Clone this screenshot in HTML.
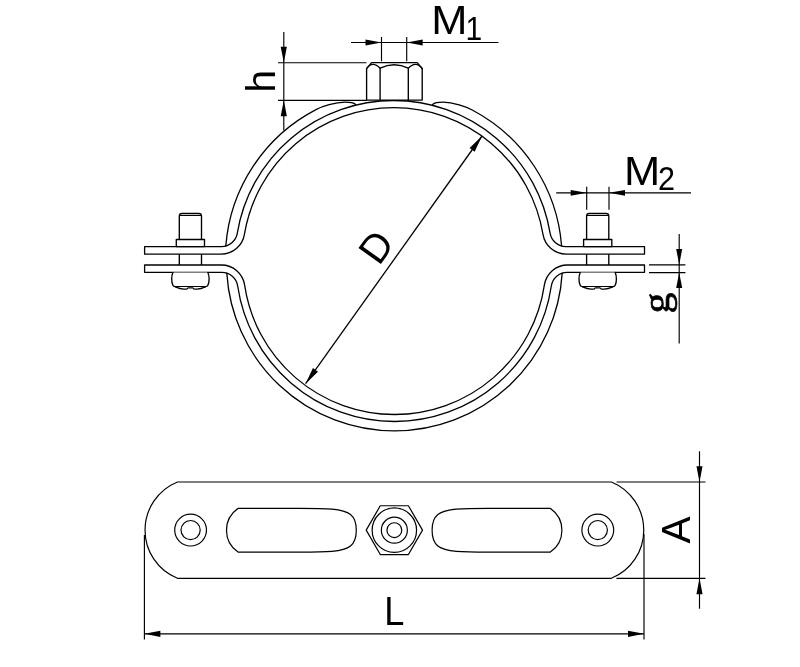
<!DOCTYPE html>
<html><head><meta charset="utf-8"><title>Pipe clamp drawing</title>
<style>
html,body{margin:0;padding:0;background:#fff;}
body{width:800px;height:667px;overflow:hidden;font-family:"Liberation Sans",sans-serif;}
svg{display:block;will-change:transform}
.o path,.o rect,.o circle,.o polygon{fill:#fff;stroke:#000;stroke-linejoin:round;stroke-linecap:round}
.o .nf{fill:none}
.d path{fill:none;stroke:#000;stroke-width:1.15}
.ar{fill:#000;stroke:none}
.t text{font-family:"Liberation Sans",sans-serif;fill:#000}
</style></head><body>
<svg width="800" height="667" viewBox="0 0 800 667">
<rect width="800" height="667" fill="#fff"/>
<g class="o" stroke-width="1.3">
<path stroke-width="1.35" d="M179.30,272 L179.30,216 Q179.30,213.3 182.00,213.3 L198.80,213.3 Q201.50,213.3 201.50,216 L201.50,272"/>
<path d="M180.10,215.3 L200.70,215.3" stroke-width="1.3"/>
<path stroke-width="1.35" d="M586.60,272 L586.60,216 Q586.60,213.3 589.30,213.3 L606.10,213.3 Q608.80,213.3 608.80,216 L608.80,272"/>
<path d="M587.40,215.3 L608.00,215.3" stroke-width="1.3"/>
<path d="M144.60,272.35 L221.85,272.35 A16,16 0 0 1 237.68,286.03 A158.5,158.5 0 0 0 551.32,286.03 A16,16 0 0 1 567.15,272.35 L644.50,272.35 L644.50,265.00 L567.50,265.00 A23.35,23.35 0 0 0 544.40,284.96 A151.5,151.5 0 0 1 244.60,284.96 A23.35,23.35 0 0 0 221.50,265.00 L144.60,265.00 Z"/>
<path d="M144.60,246.60 L221.53,246.60 A16,16 0 0 0 237.31,233.20 A158.5,158.5 0 0 1 550.09,233.20 A16,16 0 0 0 565.87,246.60 L644.50,246.60 L644.50,254.15 L566.23,254.15 A23.55,23.55 0 0 1 542.99,234.43 A151.3,151.3 0 0 0 244.41,234.43 A23.55,23.55 0 0 1 221.17,254.15 L144.60,254.15 Z"/>
<path class="nf" d="M225.80,246.01 A168.4,168.4 0 0 1 316.00,109.60 C322.21,106.37 335.00,102.3 345.00,102.2 C350.00,102.2 354.00,103 355.60,104.4"/>
<path class="nf" d="M561.60,246.01 A168.4,168.4 0 0 0 472.20,110.02 C466.01,106.75 453.20,102.3 443.20,102.2 C438.20,102.2 434.20,103 432.60,104.4"/>
<path class="nf" d="M226.81,273.14 A168,168 0 0 0 562.19,273.14"/>
<rect stroke-width="1.35" x="176.30" y="239.5" width="28.20" height="7.1"/>
<path stroke-width="1.35" d="M172.90,272.5 C171.30,276 171.30,282 172.90,285.3 Q173.40,286.6 175.30,286.6 L205.50,286.6 Q207.40,286.6 207.90,285.3 C209.50,282 209.50,276 207.90,272.5"/>
<path d="M175.30,286.9 C178.40,288.3 181.40,289.1 183.80,289.1 L186.80,289.1 L188.00,287.9 L192.80,287.9 L194.00,289.1 L197.00,289.1 C199.40,289.1 202.40,288.3 205.50,286.9" stroke-width="1.2"/>
<rect stroke-width="1.35" x="583.60" y="239.5" width="28.20" height="7.1"/>
<path stroke-width="1.35" d="M580.20,272.5 C578.60,276 578.60,282 580.20,285.3 Q580.70,286.6 582.60,286.6 L612.80,286.6 Q614.70,286.6 615.20,285.3 C616.80,282 616.80,276 615.20,272.5"/>
<path d="M582.60,286.9 C585.70,288.3 588.70,289.1 591.10,289.1 L594.10,289.1 L595.30,287.9 L600.10,287.9 L601.30,289.1 L604.30,289.1 C606.70,289.1 609.70,288.3 612.80,286.9" stroke-width="1.2"/>
</g><g class="o" stroke-width="1.35">
<path d="M366.6,100.1 L366.6,68.6 L371.6,62.6 L417.2,62.6 L422.2,68.6 L422.2,100.1 Z"/>
<path class="nf" d="M380.1,100 L380.1,68.2 M408.3,100 L408.3,68.2"/>
<path class="nf" d="M366.6,68.6 Q372.5,60.5 380.1,68.2 Q394.2,61.2 408.3,68.2 Q416,60.5 422.2,68.6"/>
</g>
<g class="d">
<path d="M283.8,32 L283.8,130.5 M278,62.75 L366.5,62.75 M278,100.35 L366.6,100.35"/>
<polygon class="ar" points="283.80,62.75 280.70,46.75 286.90,46.75"/>
<polygon class="ar" points="283.80,100.35 286.90,116.35 280.70,116.35"/>
<path d="M351,42.5 L498.5,42.5 M381.5,37 L381.5,61.3 M406.7,37 L406.7,61.3"/>
<polygon class="ar" points="381.50,42.50 365.50,45.40 365.50,39.60"/>
<polygon class="ar" points="406.70,42.50 422.70,39.60 422.70,45.40"/>
<path d="M556.2,192.8 L691,192.8 M586.7,186.8 L586.7,209.8 M609,186.8 L609,209.8"/>
<polygon class="ar" points="586.70,192.80 570.70,195.70 570.70,189.90"/>
<polygon class="ar" points="609.00,192.80 625.00,189.90 625.00,195.70"/>
<path d="M679.2,234 L679.2,343.5 M649,264.8 L685.4,264.8 M649,272.6 L685.4,272.6"/>
<polygon class="ar" points="679.20,264.80 676.20,249.00 682.20,249.00"/>
<polygon class="ar" points="679.20,272.60 682.20,288.10 676.20,288.10"/>
<path d="M305.6,383.7 L482,136" style="stroke-width:1.3"/>
<polygon class="ar" points="482.00,136.00 474.66,151.65 469.61,148.05"/>
<polygon class="ar" points="305.60,383.70 312.94,368.05 317.99,371.65"/>
<path d="M699.5,451.2 L699.5,608.8 M616.5,482 L705.5,482 M616.5,578.3 L705.5,578.3"/>
<polygon class="ar" points="699.50,482.00 696.45,466.20 702.55,466.20"/>
<polygon class="ar" points="699.50,578.30 702.55,594.20 696.45,594.20"/>
<path d="M144.4,535 L144.4,639.5 M644,534 L644,639.5 M144.4,633.85 L644,633.85"/>
<polygon class="ar" points="144.40,633.85 160.40,630.75 160.40,636.95"/>
<polygon class="ar" points="644.00,633.85 628.00,636.95 628.00,630.75"/>
</g>
<g class="o" stroke-width="1.2">
<path d="M177.4,482.0 L611.4,482.0 A52,52 0 0 1 611.4,578.3 L177.4,578.3 A52,52 0 0 1 177.4,482.0 Z"/>
<circle cx="190.6" cy="530.1" r="15.9"/><circle cx="190.6" cy="530.1" r="9.6"/>
<circle cx="597.8" cy="530.1" r="15.9"/><circle cx="597.8" cy="530.1" r="9.6"/>
<path d="M238,508.4 L300,508.4 C315,508.4 325,508.59999999999997 332,509.2 C349,510.7 356.3,515 356.3,530.2 C356.3,545.5 349,549.8000000000001 332,551.3000000000001 C325,551.9 315,552.1 300,552.1 L238,552.1 A26.5,26.5 0 0 1 238,508.4 Z"/>
<path d="M238,508.4 L300,508.4 C315,508.4 325,508.59999999999997 332,509.2 C349,510.7 356.3,515 356.3,530.2 C356.3,545.5 349,549.8000000000001 332,551.3000000000001 C325,551.9 315,552.1 300,552.1 L238,552.1 A26.5,26.5 0 0 1 238,508.4 Z" transform="translate(788.4,0) scale(-1,1)"/>
<polygon points="422.50,530.15 408.43,554.53 380.28,554.53 366.20,530.15 380.28,505.77 408.43,505.77"/>
<circle cx="394.35" cy="530.15" r="22.2"/>
<circle cx="394.35" cy="530.15" r="13.0"/>
<circle cx="394.35" cy="530.15" r="7.4"/>
</g>
<g class="t">
<text x="431.2" y="34.2" font-size="40.3" textLength="36.2" lengthAdjust="spacingAndGlyphs">M</text>
<text x="465.6" y="39.5" font-size="34" textLength="16.7" lengthAdjust="spacingAndGlyphs">1</text>
<text x="623.9" y="184.5" font-size="40.3" textLength="36.2" lengthAdjust="spacingAndGlyphs">M</text>
<text x="658" y="189.8" font-size="34" textLength="17" lengthAdjust="spacingAndGlyphs">2</text>
<text transform="translate(274.8,92.6) rotate(-90)" font-size="40.5">h</text>
<text transform="translate(669,313.4) rotate(-90) scale(1.1,0.975)" font-size="38" style="font-family:'Liberation Serif',serif;stroke:#000;stroke-width:0.7">g</text>
<text transform="translate(690.3,543.5) rotate(-90)" font-size="40.7">A</text>
<text x="384.3" y="625.4" font-size="41.5" textLength="20.1" lengthAdjust="spacingAndGlyphs">L</text>
<text transform="translate(379.1,266.7) rotate(-54.54)" font-size="40">D</text>
</g>
</svg>
</body></html>
